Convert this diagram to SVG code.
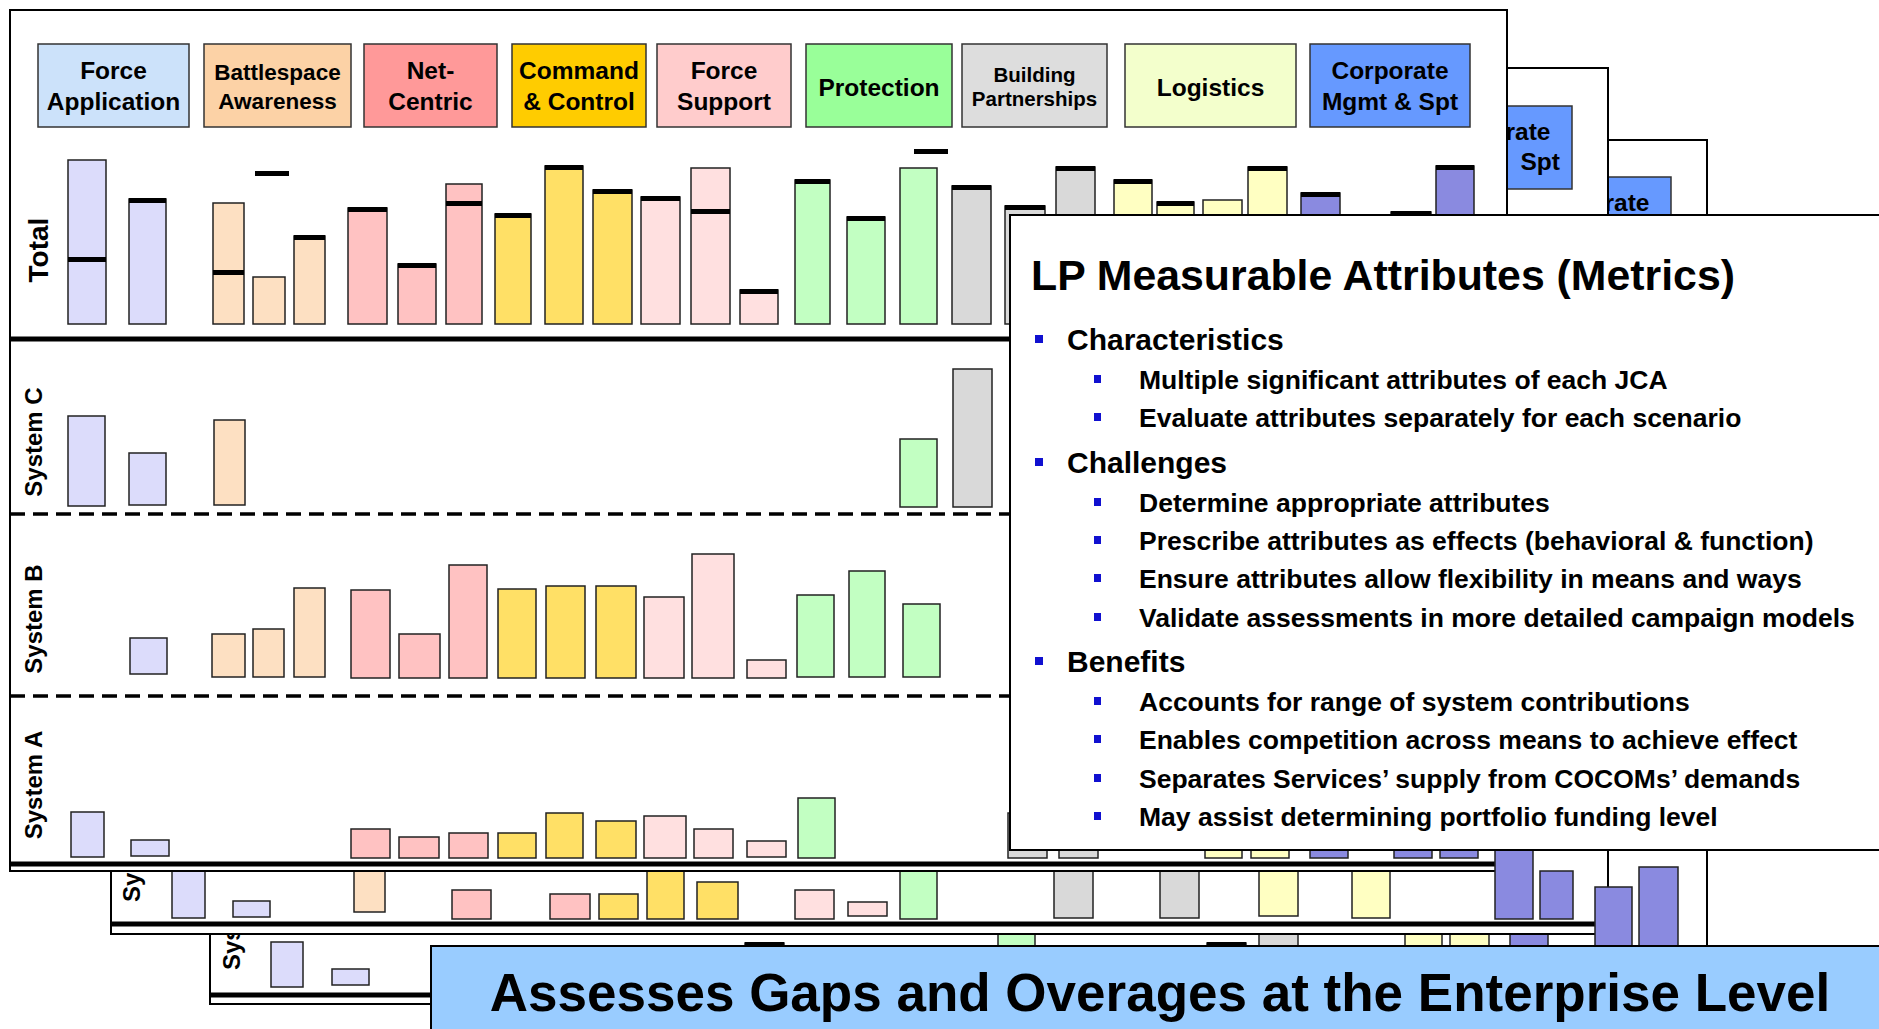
<svg xmlns="http://www.w3.org/2000/svg" width="1879" height="1029" viewBox="0 0 1879 1029">
<style>
text{font-family:"Liberation Sans",Arial,sans-serif;font-weight:bold;fill:#000}
.frame{fill:#fff;stroke:#000;stroke-width:2}
.hdr{stroke:#333;stroke-width:1.5}
.ht{font-size:24.5px;text-anchor:middle}
.bar{stroke:#222;stroke-width:1.5}
.fa{fill:#dcdcfb}.ba{fill:#fde0c2}.nc{fill:#ffc2c2}.cc{fill:#ffe066}.fs{fill:#ffe0e0}
.pr{fill:#c2ffc2}.bp{fill:#d9d9d9}.lg{fill:#ffffc2}.cp{fill:#8a8ae0}
.cap{fill:#000}
.thick{stroke:#000;stroke-width:5}
.dash{stroke:#000;stroke-width:3.5;stroke-dasharray:15 8}
.sys{font-size:24px}
.l1{font-size:30px}
.l2{font-size:26.5px}
.bul{fill:#1010d0}
</style>
<rect width="1879" height="1029" fill="#fff"/>

<!-- Panel 3 (back) -->
<g id="panel3">
  <rect class="frame" x="210" y="140" width="1497" height="864"/>
  <rect class="hdr" x="1511" y="177" width="160" height="83" fill="#6699ff"/>
  <text class="ht" x="1649.5" y="211" style="text-anchor:end">rate</text>
  <line class="thick" x1="210" y1="995" x2="1707" y2="995"/>
  <text class="sys" transform="translate(240,970) rotate(-90)">Sys</text>
  <rect class="bar fa" x="271" y="942" width="32" height="45"/>
  <rect class="bar fa" x="332" y="969" width="37" height="16"/>
  <rect class="bar cc" x="745" y="943" width="39" height="47"/>
  <rect class="cap" x="745" y="942" width="39" height="4"/>
  <rect class="bar pr" x="998" y="920" width="37" height="70"/>
  <rect class="bar lg" x="1207" y="943" width="39" height="47"/>
  <rect class="cap" x="1207" y="942" width="39" height="4"/>
  <rect class="bar bp" x="1259" y="920" width="39" height="70"/>
  <rect class="bar lg" x="1405" y="920" width="37" height="70"/>
  <rect class="bar lg" x="1450" y="920" width="39" height="70"/>
  <rect class="bar cp" x="1510" y="920" width="38" height="70"/>
  <rect class="bar cp" x="1639" y="867" width="39" height="123"/>
</g>

<!-- Panel 2 (middle) -->
<g id="panel2">
  <rect class="frame" x="111" y="68" width="1497" height="866"/>
  <rect class="hdr" x="1412" y="106" width="160" height="83" fill="#6699ff"/>
  <text class="ht" x="1550.5" y="140" style="text-anchor:end">rate</text>
  <text class="ht" x="1560" y="170" style="text-anchor:end">Spt</text>
  <line class="thick" x1="111" y1="924" x2="1608" y2="924"/>
  <text class="sys" transform="translate(140,902) rotate(-90)">Sy</text>
  <rect class="bar fa" x="172" y="860" width="33" height="58"/>
  <rect class="bar fa" x="233" y="901" width="37" height="16"/>
  <rect class="bar ba" x="354" y="860" width="31" height="52"/>
  <rect class="bar nc" x="452" y="890" width="39" height="29"/>
  <rect class="bar nc" x="550" y="894" width="40" height="25"/>
  <rect class="bar cc" x="599" y="894" width="39" height="25"/>
  <rect class="bar cc" x="647" y="860" width="37" height="59"/>
  <rect class="bar cc" x="697" y="882" width="41" height="37"/>
  <rect class="bar fs" x="795" y="890" width="39" height="29"/>
  <rect class="bar fs" x="848" y="902" width="39" height="14"/>
  <rect class="bar pr" x="900" y="860" width="37" height="59"/>
  <rect class="bar bp" x="1054" y="860" width="39" height="58"/>
  <rect class="bar bp" x="1160" y="860" width="39" height="58"/>
  <rect class="bar lg" x="1259" y="860" width="39" height="56"/>
  <rect class="bar lg" x="1352" y="860" width="38" height="58"/>
  <rect class="bar cp" x="1540" y="871" width="33" height="48"/>
</g>

<!-- Main panel -->
<g id="main-panel">
  <rect class="frame" x="10" y="10" width="1497" height="861"/>
  <g id="headers">
    <g id="h-force-application"><rect class="hdr" x="38" y="44" width="151" height="83" fill="#cce2fa"/>
      <text class="ht" x="113.5" y="79">Force</text><text class="ht" x="113.5" y="110">Application</text></g>
    <g id="h-battlespace"><rect class="hdr" x="204" y="44" width="147" height="83" fill="#fcd2a6"/>
      <text class="ht" x="277.5" y="80" style="font-size:22.5px">Battlespace</text><text class="ht" x="277.5" y="109" style="font-size:22.5px">Awareness</text></g>
    <g id="h-net-centric"><rect class="hdr" x="364" y="44" width="133" height="83" fill="#ff9999"/>
      <text class="ht" x="430.5" y="79">Net-</text><text class="ht" x="430.5" y="110">Centric</text></g>
    <g id="h-c2"><rect class="hdr" x="512" y="44" width="134" height="83" fill="#ffcc00"/>
      <text class="ht" x="579" y="79">Command</text><text class="ht" x="579" y="110">&amp; Control</text></g>
    <g id="h-force-support"><rect class="hdr" x="657" y="44" width="134" height="83" fill="#ffcccc"/>
      <text class="ht" x="724" y="79">Force</text><text class="ht" x="724" y="110">Support</text></g>
    <g id="h-protection"><rect class="hdr" x="806" y="44" width="146" height="83" fill="#99ff99"/>
      <text class="ht" x="879" y="96">Protection</text></g>
    <g id="h-building"><rect class="hdr" x="962" y="44" width="145" height="83" fill="#dddddd"/>
      <text class="ht" x="1034.5" y="82" style="font-size:20.5px">Building</text><text class="ht" x="1034.5" y="106" style="font-size:20.5px">Partnerships</text></g>
    <g id="h-logistics"><rect class="hdr" x="1125" y="44" width="171" height="83" fill="#f3ffcc"/>
      <text class="ht" x="1210.5" y="96">Logistics</text></g>
    <g id="h-corporate"><rect class="hdr" x="1310" y="44" width="160" height="83" fill="#6699ff"/>
      <text class="ht" x="1390" y="79">Corporate</text><text class="ht" x="1390" y="110">Mgmt &amp; Spt</text></g>
  </g>

  <g id="row-total">
    <text transform="translate(48,250) rotate(-90)" style="font-size:28px;text-anchor:middle">Total</text>
    <rect class="bar fa" x="68" y="160" width="38" height="164"/><rect class="cap" x="68" y="257" width="38" height="5"/>
    <rect class="bar fa" x="129" y="199" width="37" height="125"/><rect class="cap" x="129" y="198" width="37" height="5"/>
    <rect class="bar ba" x="213" y="203" width="31" height="121"/><rect class="cap" x="213" y="270" width="31" height="5"/>
    <rect class="cap" x="255" y="171" width="34" height="5"/>
    <rect class="bar ba" x="253" y="277" width="32" height="47"/>
    <rect class="bar ba" x="294" y="236" width="31" height="88"/><rect class="cap" x="294" y="235" width="31" height="5"/>
    <rect class="bar nc" x="348" y="208" width="39" height="116"/><rect class="cap" x="348" y="207" width="39" height="5"/>
    <rect class="bar nc" x="398" y="264" width="38" height="60"/><rect class="cap" x="398" y="263" width="38" height="5"/>
    <rect class="bar nc" x="446" y="184" width="36" height="140"/><rect class="cap" x="446" y="201" width="36" height="5"/>
    <rect class="bar cc" x="495" y="214" width="36" height="110"/><rect class="cap" x="495" y="213" width="36" height="5"/>
    <rect class="bar cc" x="545" y="166" width="38" height="158"/><rect class="cap" x="545" y="165" width="38" height="5"/>
    <rect class="bar cc" x="593" y="190" width="39" height="134"/><rect class="cap" x="593" y="189" width="39" height="5"/>
    <rect class="bar fs" x="641" y="197" width="39" height="127"/><rect class="cap" x="641" y="196" width="39" height="5"/>
    <rect class="bar fs" x="691" y="168" width="39" height="156"/><rect class="cap" x="691" y="209" width="39" height="5"/>
    <rect class="bar fs" x="740" y="290" width="38" height="34"/><rect class="cap" x="740" y="289" width="38" height="5"/>
    <rect class="bar pr" x="795" y="180" width="35" height="144"/><rect class="cap" x="795" y="179" width="35" height="5"/>
    <rect class="bar pr" x="847" y="217" width="38" height="107"/><rect class="cap" x="847" y="216" width="38" height="5"/>
    <rect class="cap" x="914" y="149" width="34" height="5"/>
    <rect class="bar pr" x="900" y="168" width="37" height="156"/>
    <rect class="bar bp" x="952" y="186" width="39" height="138"/><rect class="cap" x="952" y="185" width="39" height="5"/>
    <rect class="bar bp" x="1005" y="206" width="40" height="118"/><rect class="cap" x="1005" y="205" width="40" height="5"/>
    <rect class="bar bp" x="1056" y="167" width="39" height="157"/><rect class="cap" x="1056" y="166" width="39" height="5"/>
    <rect class="bar lg" x="1114" y="180" width="38" height="144"/><rect class="cap" x="1114" y="179" width="38" height="5"/>
    <rect class="bar lg" x="1157" y="202" width="37" height="122"/><rect class="cap" x="1157" y="201" width="37" height="5"/>
    <rect class="bar lg" x="1203" y="200" width="39" height="124"/>
    <rect class="bar lg" x="1248" y="167" width="39" height="157"/><rect class="cap" x="1248" y="166" width="39" height="5"/>
    <rect class="bar cp" x="1301" y="193" width="39" height="131"/><rect class="cap" x="1301" y="192" width="39" height="5"/>
    <rect class="bar cp" x="1391" y="212" width="40" height="112"/><rect class="cap" x="1391" y="211" width="40" height="5"/>
    <rect class="bar cp" x="1436" y="166" width="38" height="158"/><rect class="cap" x="1436" y="165" width="38" height="5"/>
    <line class="thick" x1="10" y1="339" x2="1507" y2="339"/>
  </g>

  <g id="row-system-c">
    <text class="sys" transform="translate(42,442) rotate(-90)" text-anchor="middle">System C</text>
    <rect class="bar fa" x="68" y="416" width="37" height="90"/>
    <rect class="bar fa" x="129" y="453" width="37" height="52"/>
    <rect class="bar ba" x="214" y="420" width="31" height="85"/>
    <rect class="bar pr" x="900" y="439" width="37" height="68"/>
    <rect class="bar bp" x="953" y="369" width="39" height="138"/>
    <line class="dash" x1="10" y1="514" x2="1507" y2="514"/>
  </g>

  <g id="row-system-b">
    <text class="sys" transform="translate(42,619) rotate(-90)" text-anchor="middle">System B</text>
    <rect class="bar fa" x="130" y="638" width="37" height="36"/>
    <rect class="bar ba" x="212" y="634" width="33" height="43"/>
    <rect class="bar ba" x="253" y="629" width="31" height="48"/>
    <rect class="bar ba" x="294" y="588" width="31" height="89"/>
    <rect class="bar nc" x="351" y="590" width="39" height="88"/>
    <rect class="bar nc" x="399" y="634" width="41" height="44"/>
    <rect class="bar nc" x="449" y="565" width="38" height="113"/>
    <rect class="bar cc" x="498" y="589" width="38" height="89"/>
    <rect class="bar cc" x="546" y="586" width="39" height="92"/>
    <rect class="bar cc" x="596" y="586" width="40" height="92"/>
    <rect class="bar fs" x="644" y="597" width="40" height="81"/>
    <rect class="bar fs" x="692" y="554" width="42" height="124"/>
    <rect class="bar fs" x="747" y="660" width="39" height="18"/>
    <rect class="bar pr" x="797" y="595" width="37" height="82"/>
    <rect class="bar pr" x="849" y="571" width="36" height="106"/>
    <rect class="bar pr" x="903" y="604" width="37" height="73"/>
    <line class="dash" x1="10" y1="696" x2="1507" y2="696"/>
  </g>

  <g id="row-system-a">
    <text class="sys" transform="translate(42,785) rotate(-90)" text-anchor="middle">System A</text>
    <rect class="bar fa" x="71" y="812" width="33" height="45"/>
    <rect class="bar fa" x="131" y="840" width="38" height="16"/>
    <rect class="bar nc" x="351" y="829" width="39" height="29"/>
    <rect class="bar nc" x="399" y="837" width="40" height="21"/>
    <rect class="bar nc" x="449" y="833" width="39" height="25"/>
    <rect class="bar cc" x="498" y="833" width="38" height="25"/>
    <rect class="bar cc" x="546" y="813" width="37" height="45"/>
    <rect class="bar cc" x="596" y="821" width="40" height="37"/>
    <rect class="bar fs" x="644" y="816" width="42" height="42"/>
    <rect class="bar fs" x="694" y="829" width="39" height="29"/>
    <rect class="bar fs" x="747" y="841" width="39" height="16"/>
    <rect class="bar pr" x="798" y="798" width="37" height="60"/>
    <rect class="bar bp" x="1008" y="813" width="39" height="45"/>
    <rect class="bar bp" x="1059" y="820" width="39" height="38"/>
    <rect class="bar lg" x="1205" y="820" width="37" height="38"/>
    <rect class="bar lg" x="1251" y="820" width="38" height="38"/>
    <rect class="bar cp" x="1310" y="820" width="38" height="38"/>
    <rect class="bar cp" x="1394" y="820" width="38" height="38"/>
    <rect class="bar cp" x="1440" y="820" width="38" height="38"/>
    <line class="thick" x1="10" y1="864" x2="1507" y2="864"/>
  </g>
</g>

<g id="overlap-bars">
  <rect class="bar cp" x="1495" y="840" width="38" height="79"/>
  <rect class="bar cp" x="1595" y="887" width="37" height="100"/>
</g>

<!-- LP box -->
<g id="lp-box">
  <rect x="1010" y="215" width="880" height="635" fill="#fff" stroke="#000" stroke-width="2"/>
  <text x="1031" y="290" style="font-size:42.8px">LP Measurable Attributes (Metrics)</text>
  <rect class="bul" x="1035" y="335" width="8" height="8"/>
  <text class="l1" x="1067" y="350">Characteristics</text>
  <rect class="bul" x="1094" y="375" width="7" height="8"/>
  <text class="l2" x="1139" y="389">Multiple significant attributes of each JCA</text>
  <rect class="bul" x="1094" y="413" width="7" height="8"/>
  <text class="l2" x="1139" y="427">Evaluate attributes separately for each scenario</text>
  <rect class="bul" x="1035" y="458" width="8" height="8"/>
  <text class="l1" x="1067" y="473">Challenges</text>
  <rect class="bul" x="1094" y="498" width="7" height="8"/>
  <text class="l2" x="1139" y="512">Determine appropriate attributes</text>
  <rect class="bul" x="1094" y="536" width="7" height="8"/>
  <text class="l2" x="1139" y="550">Prescribe attributes as effects (behavioral &amp; function)</text>
  <rect class="bul" x="1094" y="574" width="7" height="8"/>
  <text class="l2" x="1139" y="588">Ensure attributes allow flexibility in means and ways</text>
  <rect class="bul" x="1094" y="613" width="7" height="8"/>
  <text class="l2" x="1139" y="627">Validate assessments in more detailed campaign models</text>
  <rect class="bul" x="1035" y="657" width="8" height="8"/>
  <text class="l1" x="1067" y="672">Benefits</text>
  <rect class="bul" x="1094" y="697" width="7" height="8"/>
  <text class="l2" x="1139" y="711">Accounts for range of system contributions</text>
  <rect class="bul" x="1094" y="735" width="7" height="8"/>
  <text class="l2" x="1139" y="749">Enables competition across means to achieve effect</text>
  <rect class="bul" x="1094" y="774" width="7" height="8"/>
  <text class="l2" x="1139" y="788">Separates Services’ supply from COCOMs’ demands</text>
  <rect class="bul" x="1094" y="812" width="7" height="8"/>
  <text class="l2" x="1139" y="826">May assist determining portfolio funding level</text>
</g>

<!-- Banner -->
<g id="banner">
  <rect x="431" y="946" width="1460" height="100" fill="#99ccff" stroke="#000" stroke-width="2"/>
  <text x="1160" y="1011" style="font-size:53px;text-anchor:middle">Assesses Gaps and Overages at the Enterprise Level</text>
</g>
<g id="connectors"/>
</svg>
